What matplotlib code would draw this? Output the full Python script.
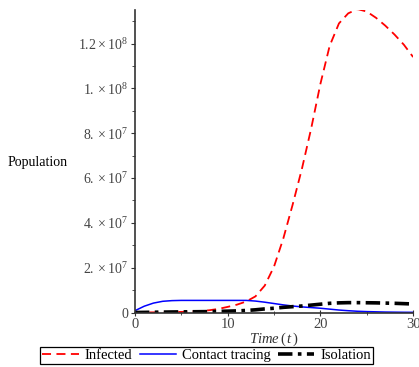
import matplotlib
matplotlib.use("Agg")
import matplotlib.pyplot as plt
from matplotlib.ticker import MultipleLocator

plt.rcParams['font.family'] = ['Liberation Serif', 'DejaVu Serif']
plt.rcParams['mathtext.fontset'] = 'custom'
plt.rcParams['mathtext.rm'] = 'Liberation Serif'
plt.rcParams['mathtext.it'] = 'Liberation Serif:italic'

# time in days
t = list(range(31))

# populations (in millions)
infected = [0.02, 0.04, 0.07, 0.11, 0.17, 0.27, 0.42, 0.65, 1.0, 1.6,
            2.5, 3.5, 4.9, 7.2, 12, 20.5, 33, 48, 64, 82,
            102, 119, 129, 133.5, 135.4, 134.3, 131.5, 128, 124, 119.5, 114]
contact = [0.8, 2.8, 4.2, 5.0, 5.3, 5.4, 5.4, 5.4, 5.4, 5.4,
           5.4, 5.4, 5.4, 5.1, 4.6, 4.0, 3.4, 2.9, 2.5, 2.2,
           1.9, 1.5, 1.1, 0.8, 0.55, 0.4, 0.3, 0.2, 0.15, 0.1, 0.08]
isolation = [0.0, 0.05, 0.12, 0.18, 0.23, 0.28, 0.32, 0.36, 0.4, 0.5,
             0.6, 0.72, 0.9, 1.2, 1.6, 1.9, 2.3, 2.6, 2.9, 3.3,
             3.7, 4.1, 4.3, 4.4, 4.4, 4.35, 4.3, 4.2, 4.1, 3.95, 3.8]

yticks = [0, 2e7, 4e7, 6e7, 8e7, 1e8, 1.2e8]
ytick_labels = ['0', r'$2.\times10^{7}$', r'$4.\times10^{7}$', r'$6.\times10^{7}$',
                r'$8.\times10^{7}$', r'$1.\times10^{8}$', r'$1.2\times10^{8}$']

fig = plt.figure(figsize=(4.19, 3.67), dpi=100)
ax = fig.add_axes([0.322, 0.1485, 0.664, 0.8243])

sc = 1e6
ax.plot(t, [v * sc for v in infected], color='red', lw=1.3, dashes=(5, 3), label='Infected')
ax.plot(t, [v * sc for v in contact], color='blue', lw=1.1, label='Contact tracing')
ax.plot(t, [v * sc for v in isolation], color='black', lw=2.6,
        dashes=(4, 1.5, 1, 1.5), label='Isolation')

ax.set_xlim(0, 30)
ax.set_ylim(0, 1.35e8)
ax.set_yticks(yticks)
ax.set_yticklabels(ytick_labels)
ax.set_xticks([0, 10, 20, 30])
ax.xaxis.set_minor_locator(MultipleLocator(5))
ax.yaxis.set_minor_locator(MultipleLocator(1e7))

for s in ['top', 'right']:
    ax.spines[s].set_visible(False)
for s in ['left', 'bottom']:
    ax.spines[s].set_color('#333333')
    ax.spines[s].set_linewidth(1.2)

ax.tick_params(axis='y', which='major', direction='out', length=3, labelsize=10,
               labelcolor='#444444', color='#333333', pad=2)
ax.tick_params(axis='y', which='minor', direction='out', length=2, color='#333333')
ax.tick_params(axis='x', which='major', direction='inout', length=4, labelsize=10.5,
               labelcolor='#444444', color='#333333', pad=2)
ax.tick_params(axis='x', which='minor', direction='inout', length=3, color='#333333')

fig.text(8 / 419, 1 - 162 / 367, 'Population', fontsize=10, va='center', ha='left')
fig.text(274 / 419, 1 - 339 / 367, r'$\mathit{Time}\,(\,t\,)$', fontsize=10.5,
         ha='center', va='center', color='#333333')

leg = fig.legend(loc='center', bbox_to_anchor=(0.493, 0.031), ncol=3, fontsize=10.5,
                 frameon=True, fancybox=False, framealpha=1, edgecolor='black',
                 handlelength=2.5, handletextpad=0.4, columnspacing=0.5,
                 borderpad=0.15, borderaxespad=0)
leg.get_frame().set_linewidth(0.9)

fig.savefig('out.png', dpi=100)
